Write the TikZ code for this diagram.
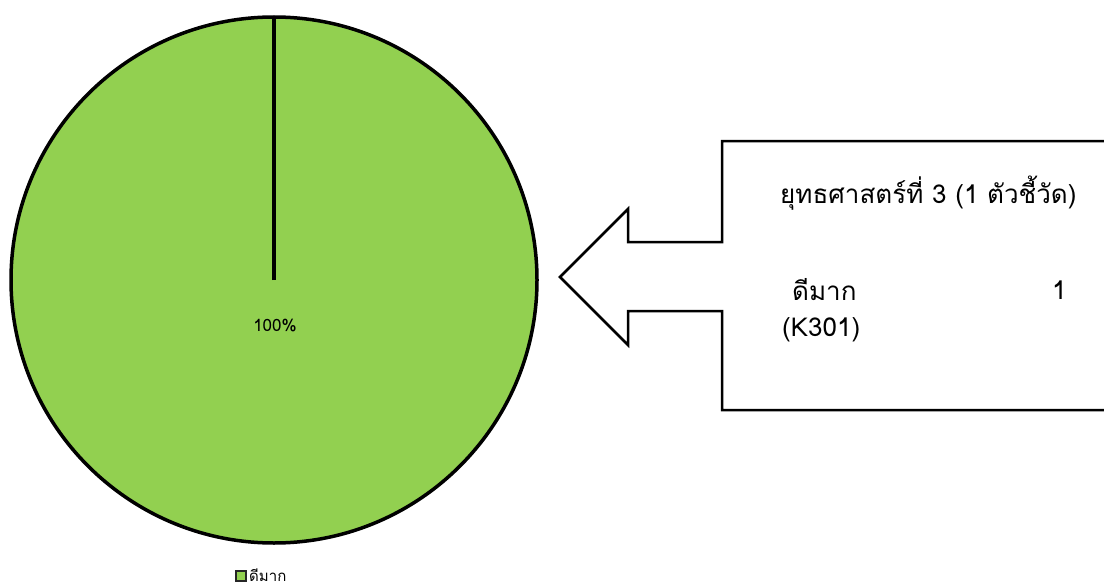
\documentclass[tikz,border=0pt]{standalone}
\usepackage{fontspec}
\usepackage{xcolor}
\newfontfamily\thaifont[Script=Thai]{Loma}
\definecolor{piegreen}{HTML}{92D050}

\begin{document}
\begin{tikzpicture}[x=1pt, y=-1pt]
    \clip (0, 0) rectangle (1104, 586);
    \useasboundingbox (0, 0) rectangle (1104, 586);

    % camembert
    \draw[fill=piegreen, draw=black, line width=3.5pt] (274, 280) circle (263);
    \draw[draw=black, line width=4.5pt] (274, 280) -- (274, 17);
    \node[font=\thaifont\fontsize{17}{19}\selectfont] (pct) at (275, 326) {100\%};

    % legende
    \draw[fill=piegreen, draw=black!85, line width=2pt] (236, 571) rectangle (246, 581);
    \node[font=\thaifont\fontsize{15}{17}\selectfont, anchor=west, inner sep=0pt] (legend) at (249, 575) {ดีมาก};

    % fleche
    \draw[draw=black, line width=2.5pt, fill=white]
        (1110, 141) -- (722, 141) -- (722, 242) -- (628, 242) -- (628, 209)
        -- (560, 277) -- (628, 345) -- (628, 311) -- (722, 311) -- (722, 410)
        -- (1110, 410);

    \node[font=\thaifont\fontsize{26}{30}\selectfont, anchor=west, inner sep=0pt] (title) at (780, 193) {ยุทธศาสตร์ที่ 3 (1 ตัวชี้วัด)};
    \node[font=\thaifont\fontsize{26}{30}\selectfont, anchor=west, inner sep=0pt] (level) at (792, 290) {ดีมาก};
    \node[font=\thaifont\fontsize{26}{30}\selectfont, anchor=west, inner sep=0pt] (count) at (1052, 290) {1};
    \node[font=\thaifont\fontsize{26}{30}\selectfont, anchor=west, inner sep=0pt] (code) at (782, 330) {(K301)};
\end{tikzpicture}
\end{document}
